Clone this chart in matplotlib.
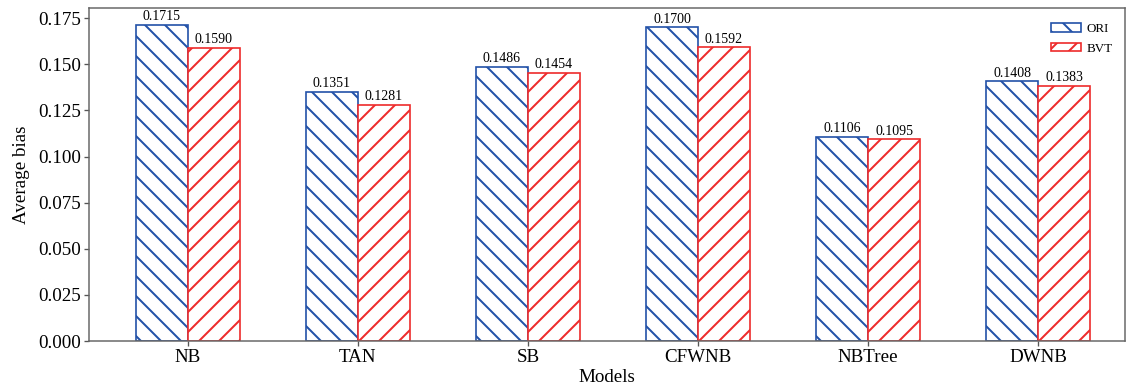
import matplotlib
matplotlib.use("Agg")
import matplotlib.pyplot as plt
import numpy as np

models = ["NB", "TAN", "SB", "CFWNB", "NBTree", "DWNB"]
ori = [0.1715, 0.1351, 0.1486, 0.1700, 0.1106, 0.1408]
bvt = [0.1590, 0.1281, 0.1454, 0.1592, 0.1095, 0.1383]

plt.rcParams['font.family'] = ['Liberation Serif', 'DejaVu Serif']
plt.rcParams['hatch.linewidth'] = 1.2

DPI = 120
fig = plt.figure(figsize=(1137 / DPI, 391 / DPI), dpi=DPI)
ax = fig.add_axes([89 / 1137, 1 - 341 / 391, (1125 - 89) / 1137, (341 - 8) / 391])

blue = '#2352a8'
red = '#ee2b2b'
x = np.arange(len(models))
w = 0.306
b1 = ax.bar(x - w / 2, ori, w, facecolor='white', edgecolor=blue, hatch='\\\\', linewidth=1.0, label='ORI')
b2 = ax.bar(x + w / 2, bvt, w, facecolor='white', edgecolor=red, hatch='//', linewidth=1.0, label='BVT')

for rect, v in zip(list(b1) + list(b2), ori + bvt):
    ax.text(rect.get_x() + rect.get_width() / 2, v + 0.0008, f"{v:.4f}",
            ha='center', va='bottom', fontsize=8.3)

ax.set_xlim(-0.58, 5.51)
ax.set_ylim(0, 0.1805)
ticks = np.arange(0, 0.176, 0.025)
ax.set_yticks(ticks)
ax.set_yticklabels([f"{t:.3f}" for t in ticks])
ax.set_xticks(x)
ax.set_xticklabels(models)
ax.tick_params(axis='both', labelsize=11.4, length=3, width=0.8, color='#555555', pad=1.5)
for s in ax.spines.values():
    s.set_color('#666666')
    s.set_linewidth(0.9)
ax.set_xlabel("Models", fontsize=11.4, labelpad=2)
ax.set_ylabel("Average bias", fontsize=11.4, labelpad=5)

ax.legend(loc='upper right', frameon=False, fontsize=7.8, handlelength=2.3, handleheight=0.65,
          handletextpad=0.4, labelspacing=0.55, borderaxespad=0.4, bbox_to_anchor=(0.998, 0.985))

fig.savefig("out.png", dpi=DPI)
